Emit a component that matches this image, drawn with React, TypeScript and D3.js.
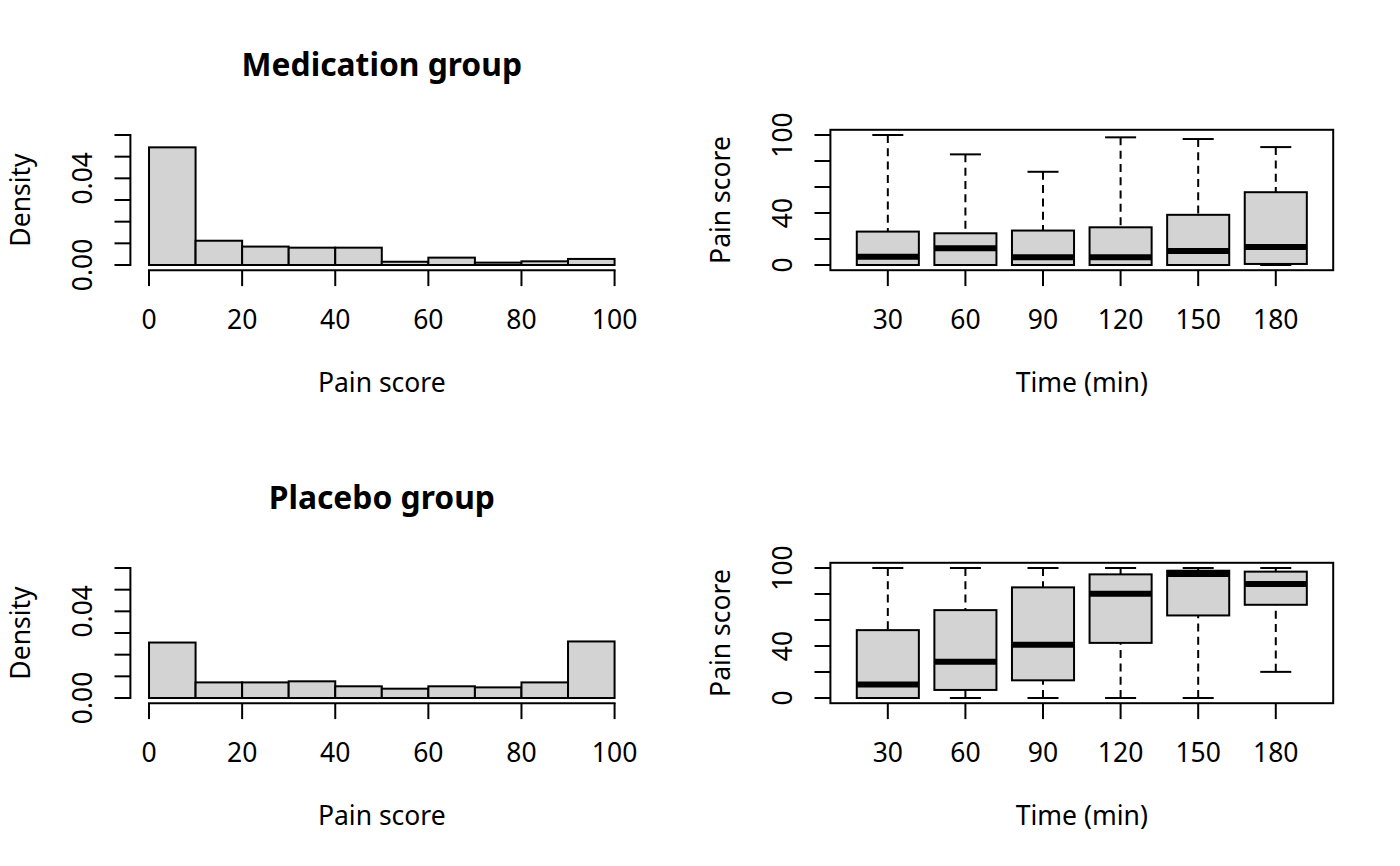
import React from "react";
import * as d3 from "d3";

// ---- data ----
const breaks = [0, 10, 20, 30, 40, 50, 60, 70, 80, 90, 100];
const medDensity = [0.0543, 0.0112, 0.0085, 0.008, 0.008, 0.0015, 0.0034, 0.0011, 0.0017, 0.0028];
const plaDensity = [0.0256, 0.0072, 0.0072, 0.0077, 0.0054, 0.0043, 0.0054, 0.0049, 0.0072, 0.0261];
const histXTicks = [0, 20, 40, 60, 80, 100];
const histYTicks = [0, 0.01, 0.02, 0.03, 0.04, 0.05, 0.06];
const histYLabels = ["0.00", "", "", "", "0.04", "", ""];

const times = ["30", "60", "90", "120", "150", "180"];
const medLow = [0, 0, 0, 0, 0, 0];
const medQ1 = [0, 0, 0, 0, 0, 0.8];
const medMedian = [6.4, 12.9, 5.9, 5.9, 10.8, 13.9];
const medQ3 = [25.7, 24.4, 26.5, 29.0, 38.6, 56.0];
const medHigh = [100, 85.1, 71.7, 98.2, 96.9, 90.7];

const plaLow = [0, 0, 0, 0, 0, 20.1];
const plaQ1 = [0, 6.2, 13.6, 42.4, 63.5, 71.7];
const plaMedian = [10.3, 27.8, 40.9, 80.2, 95.4, 87.7];
const plaQ3 = [52.2, 67.6, 85.1, 95.1, 97.9, 97.2];
const plaHigh = [100, 100, 100, 100, 100, 100];

const boxYTicks = [0, 20, 40, 60, 80, 100];
const boxYLabels = ["0", "", "40", "", "", "100"];

const FONT = "'Noto Sans', 'DejaVu Sans', sans-serif";
const FS = 26.5;
const LW = 2;
const FILL = "#D3D3D3";
const TICK = 15.9;
const DASH = "8,5.3";

function geom(col: number, row: number) {
  const ox = 700 * col;
  const oy = 433 * row;
  return { left: ox + 130.4, right: ox + 633.2, top: oy + 129.8, bottom: oy + 270.2 };
}

function Hist({ row, dens, title }: { row: number; dens: number[]; title: string }) {
  const g = geom(0, row);
  const x = d3.scaleLinear().domain([-4, 104]).range([g.left, g.right]);
  const y = d3.scaleLinear().domain([-0.0024, 0.0624]).range([g.bottom, g.top]);
  const cx = (g.left + g.right) / 2;
  const cy = (g.top + g.bottom) / 2;
  return (
    <g>
      <text x={cx} y={g.top - 53.8} textAnchor="middle" fontWeight="bold" fontSize={FS * 1.2}>
        {title}
      </text>
      {dens.map((d, i) => (
        <rect
          key={i}
          x={x(breaks[i])}
          y={y(d)}
          width={x(breaks[i + 1]) - x(breaks[i])}
          height={y(0) - y(d)}
          fill={FILL}
          stroke="#000"
          strokeWidth={LW}
        />
      ))}
      {/* x axis */}
      <line x1={x(0)} x2={x(100)} y1={g.bottom} y2={g.bottom} stroke="#000" strokeWidth={LW} strokeLinecap="square" />
      {histXTicks.map((t) => (
        <g key={t}>
          <line x1={x(t)} x2={x(t)} y1={g.bottom} y2={g.bottom + TICK} stroke="#000" strokeWidth={LW} />
          <text x={x(t)} y={g.bottom + 58.3} textAnchor="middle" fontSize={FS}>
            {t}
          </text>
        </g>
      ))}
      <text x={cx} y={g.bottom + 121.8} textAnchor="middle" fontSize={FS}>
        Pain score
      </text>
      {/* y axis */}
      <line x1={g.left} x2={g.left} y1={y(0)} y2={y(0.06)} stroke="#000" strokeWidth={LW} strokeLinecap="square" />
      {histYTicks.map((t, i) => (
        <g key={t}>
          <line x1={g.left} x2={g.left - TICK} y1={y(t)} y2={y(t)} stroke="#000" strokeWidth={LW} />
          {histYLabels[i] && (
            <text
              transform={`translate(${g.left - 38.7},${y(t)}) rotate(-90)`}
              textAnchor="middle"
              fontSize={FS}
            >
              {histYLabels[i]}
            </text>
          )}
        </g>
      ))}
      <text transform={`translate(${g.left - 100},${cy}) rotate(-90)`} textAnchor="middle" fontSize={FS}>
        Density
      </text>
    </g>
  );
}

function Box({
  row,
  low,
  q1,
  med,
  q3,
  high,
}: {
  row: number;
  low: number[];
  q1: number[];
  med: number[];
  q3: number[];
  high: number[];
}) {
  const g = geom(1, row);
  const x = d3.scaleLinear().domain([0.26, 6.74]).range([g.left, g.right]);
  const y = d3.scaleLinear().domain([-4, 104]).range([g.bottom, g.top]);
  const cx = (g.left + g.right) / 2;
  const cy = (g.top + g.bottom) / 2;
  const half = 0.4;
  const staple = 0.2;
  return (
    <g>
      {times.map((t, i) => {
        const p = i + 1;
        return (
          <g key={t}>
            <line x1={x(p)} x2={x(p)} y1={y(high[i])} y2={y(q3[i])} stroke="#000" strokeWidth={LW} strokeDasharray={DASH} />
            <line x1={x(p)} x2={x(p)} y1={y(low[i])} y2={y(q1[i])} stroke="#000" strokeWidth={LW} strokeDasharray={DASH} />
            <line x1={x(p - staple)} x2={x(p + staple)} y1={y(high[i])} y2={y(high[i])} stroke="#000" strokeWidth={LW} />
            <line x1={x(p - staple)} x2={x(p + staple)} y1={y(low[i])} y2={y(low[i])} stroke="#000" strokeWidth={LW} />
            <rect
              x={x(p - half)}
              y={y(q3[i])}
              width={x(p + half) - x(p - half)}
              height={y(q1[i]) - y(q3[i])}
              fill={FILL}
              stroke="#000"
              strokeWidth={LW}
            />
            <line x1={x(p - half)} x2={x(p + half)} y1={y(med[i])} y2={y(med[i])} stroke="#000" strokeWidth={6} />
          </g>
        );
      })}
      <rect x={g.left} y={g.top} width={g.right - g.left} height={g.bottom - g.top} fill="none" stroke="#000" strokeWidth={LW} />
      {times.map((t, i) => (
        <g key={t}>
          <line x1={x(i + 1)} x2={x(i + 1)} y1={g.bottom} y2={g.bottom + TICK} stroke="#000" strokeWidth={LW} />
          <text x={x(i + 1)} y={g.bottom + 58.3} textAnchor="middle" fontSize={FS}>
            {t}
          </text>
        </g>
      ))}
      <text x={cx} y={g.bottom + 121.8} textAnchor="middle" fontSize={FS}>
        Time (min)
      </text>
      {boxYTicks.map((t, i) => (
        <g key={t}>
          <line x1={g.left} x2={g.left - TICK} y1={y(t)} y2={y(t)} stroke="#000" strokeWidth={LW} />
          {boxYLabels[i] && (
            <text transform={`translate(${g.left - 38.7},${y(t)}) rotate(-90)`} textAnchor="middle" fontSize={FS}>
              {boxYLabels[i]}
            </text>
          )}
        </g>
      ))}
      <text transform={`translate(${g.left - 100},${cy}) rotate(-90)`} textAnchor="middle" fontSize={FS}>
        Pain score
      </text>
    </g>
  );
}

export default function App() {
  return (
    <div style={{ position: "absolute", left: 0, top: 0 }}>
      <svg width={1400} height={866} viewBox="0 0 1400 866" fontFamily={FONT} style={{ display: "block", background: "#fff" }}>
        <rect width={1400} height={866} fill="#fff" />
        <Hist row={0} dens={medDensity} title="Medication group" />
        <Hist row={1} dens={plaDensity} title="Placebo group" />
        <Box row={0} low={medLow} q1={medQ1} med={medMedian} q3={medQ3} high={medHigh} />
        <Box row={1} low={plaLow} q1={plaQ1} med={plaMedian} q3={plaQ3} high={plaHigh} />
      </svg>
    </div>
  );
}
